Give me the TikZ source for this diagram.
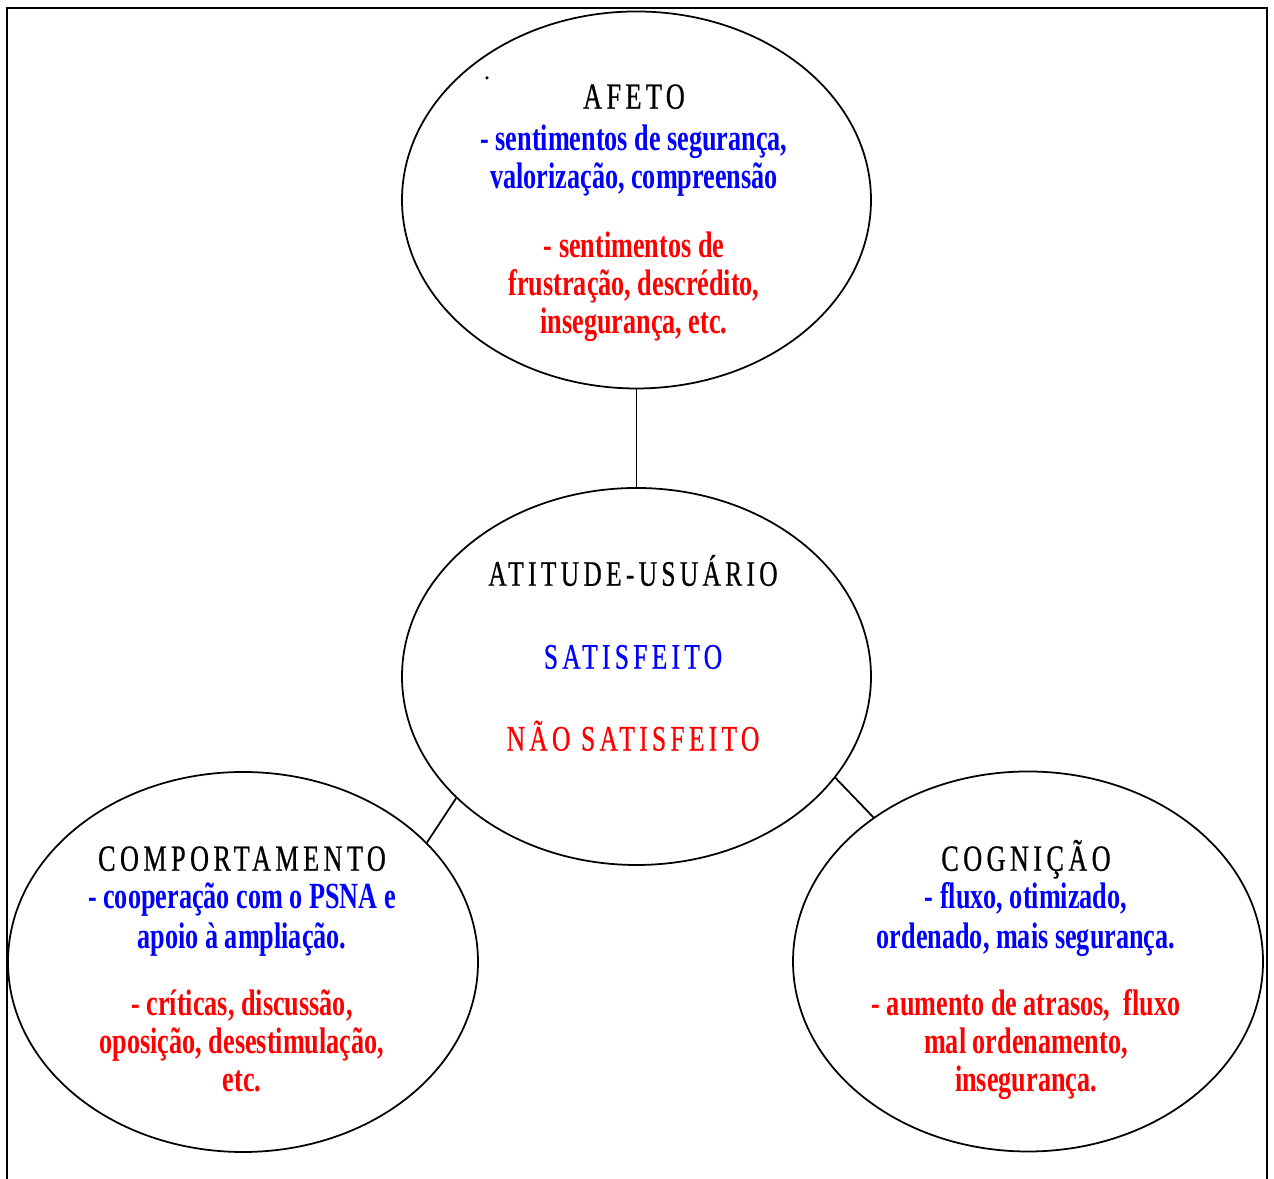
\documentclass[tikz,border=0pt]{standalone}
\usepackage{fontspec}
\usepackage{tikz}
\usetikzlibrary{shapes.geometric}
\newfontfamily\condfont{Liberation Serif}[FakeStretch=0.71]
\newfontfamily\titfont{Liberation Serif}[FakeStretch=0.71,LetterSpace=12,FakeBold=0.6]
\newcommand{\corpo}{\fontsize{10.5}{10.8}\selectfont\condfont\bfseries}
\newcommand{\titulo}[1]{{\titfont\mdseries #1}}

\begin{document}
\begin{tikzpicture}
		\tikzset{bolha/.style={draw, ellipse, line width=0.5pt, inner sep=0pt, minimum width=4.69cm, minimum height=3.77cm},
			texto/.style={align=center, anchor=north, inner sep=0pt, font=\corpo}}
		\useasboundingbox (0,0) rectangle (12.74,11.79);
		\draw[line width=0.8pt] (0.07,0) -- (0.07,11.71) -- (12.67,11.71) -- (12.67,0);
		\node[bolha] (afeto) at (6.365,9.79) {};
		\node[bolha] (atitude) at (6.365,5.025) {};
		\node[bolha, minimum width=4.70cm, minimum height=3.80cm] (comport) at (2.43,2.17) {};
		\node[bolha, minimum width=4.70cm, minimum height=3.80cm] (cognicao) at (10.28,2.175) {};
		\draw[line width=0.5pt] (afeto.south) -- (atitude.north);
		\draw[line width=0.5pt] (atitude.214.3) -- (comport.33.8);
		\draw[line width=0.5pt] (atitude.333.5) -- (cognicao.137.5);
		\fill (4.87,11.01) circle (0.5pt);
		\node[texto] (tafeto) at (6.34,11.061) {\rule{0pt}{10pt}\titulo{AFETO}\\[1.15pt]
			\textcolor{blue}{- sentimentos de segurança,}\\
			\textcolor{blue}{valorização, compreensão}\\[8.8pt]
			\textcolor{red}{- sentimentos de}\\
			\textcolor{red}{frustração, descrédito,}\\
			\textcolor{red}{insegurança, etc.}};
		\node[texto, font=\corpo\fontsize{10.2}{10.8}\selectfont] (tatitude) at (6.33,6.291) {\rule{0pt}{10pt}\titulo{ATITUDE-USUÁRIO}\\[12.8pt]
			\titulo{\textcolor{blue}{SATISFEITO}}\\[12.5pt]
			\titulo{\textcolor{red}{NÃO SATISFEITO}}};
		\node[texto] (tcomport) at (2.42,3.441) {\rule{0pt}{10pt}\titulo{COMPORTAMENTO}\\
			\textcolor{blue}{- cooperação com o PSNA e}\\[0.5pt]
			\textcolor{blue}{apoio à ampliação.}\\[8.2pt]
			\textcolor{red}{- críticas, discussão,}\\
			\textcolor{red}{oposição, desestimulação,}\\
			\textcolor{red}{etc.}};
		\node[texto] (tcognicao) at (10.26,3.441) {\rule{0pt}{10pt}\titulo{COGNIÇÃO}\\
			\textcolor{blue}{- fluxo, otimizado,}\\[0.5pt]
			\textcolor{blue}{ordenado, mais segurança.}\\[8.2pt]
			\textcolor{red}{- aumento de atrasos,\ \ fluxo}\\
			\textcolor{red}{mal ordenamento,}\\
			\textcolor{red}{insegurança.}};
	\end{tikzpicture}
\end{document}
